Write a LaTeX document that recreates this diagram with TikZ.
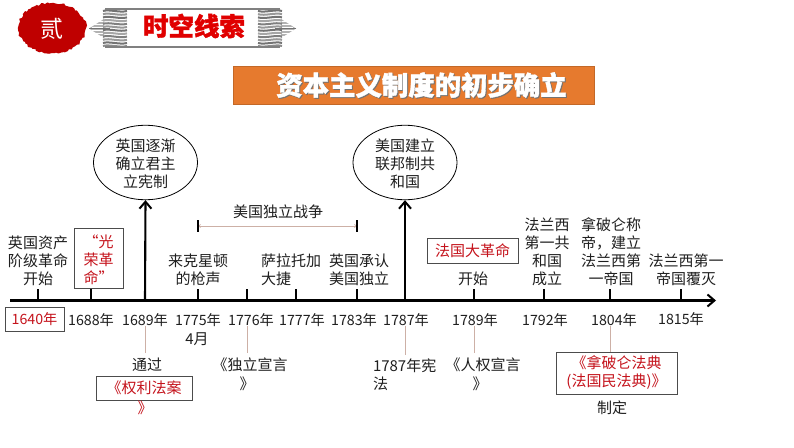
\documentclass[tikz,border=0pt]{standalone}
\usepackage{fontspec}
\setmainfont{Noto Sans CJK SC}
\newfontfamily\heavy[BoldFeatures={FakeBold=1.4}]{Noto Sans CJK SC}
\usetikzlibrary{arrows.meta,decorations.pathmorphing,shapes.geometric,calc}
\definecolor{redtxt}{HTML}{C5131C}
\definecolor{thincol}{HTML}{CDB0A6}
\definecolor{orangebox}{HTML}{E67A2E}
\newcommand{\upstrut}{\rule{0pt}{15.5pt}}
\tikzset{
  x=1pt,y=-1pt,
  lbl/.style={inner sep=0pt,align=center,font=\fontsize{15}{18}\selectfont,text=black!88},
  yr/.style={lbl,font=\fontsize{14.2}{18}\selectfont,text height=11pt,text depth=2pt},
  redbox/.style={lbl,draw=black!70,line width=.7pt,text=redtxt,minimum width=#1},
  axisline/.style={line width=2.1pt,black},
  tick/.style={line width=1.8pt,black},
  thinline/.style={line width=.7pt,thincol,shorten <=-2pt},
  bigarrow/.style={line width=2.1pt,black,-{Straight Barb[length=7pt,width=12pt,line width=2pt]}},
  oval/.style={lbl,draw=black,line width=.8pt,ellipse,minimum width=104pt,minimum height=67pt},
}
\begin{document}
\begin{tikzpicture}
\useasboundingbox (0,0) rectangle (794,447);
\fill[white] (0,0) rectangle (794,447);
% header emblem
\fill[red!75!black,decorate,decoration={random steps,segment length=2.2pt,amplitude=1.1pt}]
  (52,28) ellipse [x radius=34,y radius=25];
\node[inner sep=0pt,text=white,font=\fontsize{23}{23}\selectfont] (er) at (52,29) {贰};
% banner
\foreach \s in {0,1}{
  \begin{scope}[shift={(\s*385,0)},xscale={1-2*\s}]
    \fill[black!30] (89,28.5) -- (104,19) -- (104,38) -- cycle;
    \foreach \y in {21,24,27,30,33,36}{
      \draw[white,line width=.9pt] (92,\y) -- (104,\y);
    }
    \draw[black!55,line width=1pt] (89,28.5) -- (110,28.5);
    \foreach \y/\c in {11/55,14.2/40,17.4/55,20.6/35,23.8/50,27/40,30.2/55,33.4/35,36.6/50,39.8/40,43/55,46/45}{
      \draw[black!\c,line width=2pt] (103,\y) .. controls (109,\y-2) and (120,\y+2) .. (127,\y);
    }
  \end{scope}
}
\draw[black!50,line width=1.6pt] (105,9) -- (280,9) (105,47) -- (280,47);
\node[inner sep=0pt,text=red!88!black,font=\heavy\fontsize{25.5}{25.5}\bfseries\selectfont] (bt) at (194,26) {时空线索};
% title
\node[fill=orangebox,draw=orangebox!85!black,line width=.6pt,minimum width=361pt,minimum height=38pt,inner sep=0pt] (title) at (413.5,85) {};
\node[inner sep=0pt,text=black!55,font=\heavy\fontsize{26.4}{26.4}\bfseries\selectfont] at (422.5,86) {资本主义制度的初步确立};
\node[inner sep=0pt,text=white,font=\heavy\fontsize{26.4}{26.4}\bfseries\selectfont] (tt) at (421.5,85) {资本主义制度的初步确立};
% axis
\coordinate (a0) at (10,300.5);
\coordinate (a1) at (716,300.5);
\draw[axisline,-{Straight Barb[length=7pt,width=12pt,line width=2pt]}] (a0) -- (a1);
\foreach \n/\x in {a/38,b/91,c/145,d/198,e/247,f/296,g/357,h/405,i/474,j/544,k/610,l/681}{
  \coordinate (t\n) at (\x,300.5);
}
\foreach \n in {a,b,d,e,f,g,i,j,k,l}{ \draw[tick] (t\n) -- ++(0,-11.5); }
% ovals
\node[oval] (ov1) at (145.5,162.5) {\upstrut 英国逐渐\\确立君主\\立宪制};
\node[oval] (ov2) at (405,162.5) {\upstrut 美国建立\\联邦制共\\和国};
\draw[bigarrow] (tc) -- (ov1.south);
\draw[bigarrow] (th) -- (ov2.south);
% war span
\node[lbl] (war) at (278,212) {美国独立战争};
\coordinate (w0) at (198,226);
\coordinate (w1) at (357,226);
\draw[thinline,shorten <=0pt,{Straight Barb[length=2pt,width=3pt]}-{Straight Barb[length=2pt,width=3pt]}] (w0) -- (w1);
\draw[tick] ($(w0)+(0,-6)$) -- ($(w0)+(0,6)$);
\draw[tick] ($(w1)+(0,-6)$) -- ($(w1)+(0,6)$);
% upper labels
\node[lbl] (u1) at (38,261) {英国资产\\阶级革命\\开始};
\node[redbox=49pt,minimum height=60pt] (u2) at (98.5,258) {\upstrut “光\\荣革\\命”};
\node[lbl] (u3) at (198,270) {来克星顿\\的枪声};
\node[lbl,align=left] (u4) at (291,270) {萨拉托加\\大捷};
\node[lbl,align=left] (u5) at (359,270) {英国承认\\美国独立};
\node[redbox=91pt,minimum height=25pt] (u6) at (472.5,250.5) {法国大革命};
\node[lbl] (u6b) at (473,279) {开始};
\node[lbl] (u7) at (547,252) {法兰西\\第一共\\和国\\成立};
\node[lbl] (u8) at (611,252) {拿破仑称\\帝，建立\\法兰西第\\一帝国};
\node[lbl] (u9) at (686,270) {法兰西第一\\帝国覆灭};
% years
\node[redbox=59pt,minimum height=24pt,font=\fontsize{14.2}{18}\selectfont] (y1) at (34.5,319) {1640年};
\node[yr] (y2) at (91,321) {1688年};
\node[yr] (y3) at (145,321) {1689年};
\node[yr] (y4) at (198,321) {1775年};
\node[lbl] (y4b) at (197,339) {4月};
\node[yr] (y5) at (251,321) {1776年};
\node[yr] (y6) at (302,321) {1777年};
\node[yr] (y7) at (354,321) {1783年};
\node[yr] (y8) at (406,321) {1787年};
\node[yr] (y9) at (475,321) {1789年};
\node[yr] (y10) at (545,321) {1792年};
\node[yr] (y11) at (614,321) {1804年};
\node[yr] (y12) at (681,320) {1815年};
% lower labels
\node[lbl,text height=11pt,text depth=2pt] (l1) at (147,366) {通过};
\node[redbox=96pt,minimum height=24pt] (l1b) at (144,388) {《权利法案};
\node[lbl,text=redtxt] (l1c) at (145,408) {》};
\node[lbl,text height=11pt,text depth=2pt] (l2) at (250,366) {《独立宣言};
\node[lbl] (l2b) at (247,384) {》};
\node[lbl,align=left,text width=60pt] (l3) at (403,375) {1787年宪\\法};
\node[lbl,text height=11pt,text depth=2pt] (l4) at (483,366) {《人权宣言};
\node[lbl] (l4b) at (480,384) {》};
\node[redbox=121pt,minimum height=42pt] (l5) at (616.5,373) {《拿破仑法典\\(法国民法典)》};
\node[lbl] (l5b) at (612,408) {制定};
% thin connectors
\draw[thinline,shorten >=6pt] (tc |- y3.south) -- (tc |- l1.north);
\draw[thinline,shorten >=6pt] (te |- y5.south) -- (te |- l2.north);
\draw[thinline,shorten >=4pt] (th |- y8.south) -- (th |- l3.north);
\draw[thinline,shorten >=6pt] (ti |- y9.south) -- (ti |- l4.north);
\draw[thinline] (tk |- y11.south) -- (tk |- l5.north);
\end{tikzpicture}
\end{document}
